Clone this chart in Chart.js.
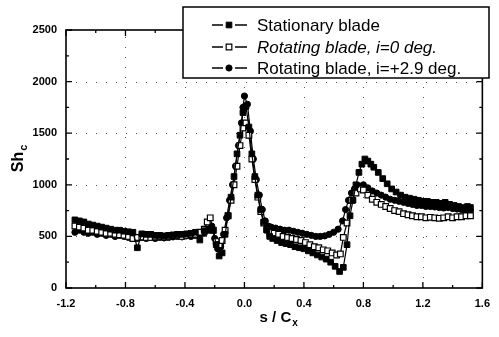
<!DOCTYPE html>
<html>
<head>
<meta charset="utf-8">
<script src="https://cdn.jsdelivr.net/npm/chart.js@4.4.0/dist/chart.umd.min.js"></script>
<style>
  body { margin: 0; background: #fff; }
  #wrap { width: 499px; height: 337px; }
</style>
</head>
<body>
<div id="wrap"><canvas id="myChart" width="499" height="337"></canvas></div>
<script>
  // tick labels
  var xTicks = [-1.2, -0.8, -0.4, 0.0, 0.4, 0.8, 1.2, 1.6];
  var yTicks = [0, 500, 1000, 1500, 2000, 2500];

  // Stationary blade (filled squares)
  var statS = [-1.14,-1.11,-1.08,-1.05,-1.02,-0.99,-0.96,-0.93,-0.90,-0.87,
    -0.84,-0.81,-0.78,-0.75,-0.72,-0.69,-0.66,-0.63,-0.60,-0.57,
    -0.54,-0.51,-0.48,-0.45,-0.42,-0.39,-0.36,-0.33,-0.30,-0.27,
    -0.24,-0.21,-0.19,-0.17,-0.15,-0.13,-0.11,-0.09,-0.07,-0.05,
    -0.03,-0.01,0.01,0.03,0.05,0.07,0.09,0.11,0.13,0.15,
    0.17,0.19,0.22,0.25,0.28,0.31,0.34,0.37,0.40,0.43,
    0.46,0.49,0.52,0.55,0.58,0.61,0.64,0.665,0.69,0.71,
    0.73,0.75,0.77,0.79,0.81,0.83,0.85,0.87,0.90,0.93,
    0.96,0.99,1.02,1.05,1.08,1.11,1.14,1.17,1.20,1.23,
    1.26,1.29,1.32,1.35,1.38,1.41,1.44,1.47,1.50,1.52];
  var statSh = [660,650,640,620,610,600,590,580,570,560,
    560,550,545,540,390,525,520,520,510,510,
    505,510,515,520,520,525,530,540,465,555,
    570,560,420,310,340,520,700,880,1080,1300,
    1480,1700,1760,1560,1300,1080,900,760,640,560,
    500,480,460,440,430,420,400,390,380,360,
    340,320,300,280,250,210,160,200,420,700,
    850,1000,1120,1200,1250,1230,1200,1170,1120,1060,
    1010,960,930,900,880,870,860,850,840,840,
    830,830,820,830,810,800,790,780,790,780];

  // Rotating blade, i=0 deg. (open squares)
  var rot0S = [-1.14,-1.11,-1.08,-1.05,-1.02,-0.99,-0.96,-0.93,-0.90,-0.87,
    -0.84,-0.81,-0.78,-0.75,-0.72,-0.69,-0.66,-0.63,-0.60,-0.57,
    -0.54,-0.51,-0.48,-0.45,-0.42,-0.39,-0.36,-0.33,-0.30,-0.27,
    -0.25,-0.23,-0.21,-0.19,-0.17,-0.15,-0.13,-0.11,-0.09,-0.07,
    -0.05,-0.03,-0.01,0.01,0.03,0.05,0.07,0.09,0.11,0.13,
    0.15,0.17,0.20,0.23,0.26,0.29,0.32,0.35,0.38,0.41,
    0.44,0.47,0.50,0.53,0.56,0.59,0.62,0.645,0.665,0.69,
    0.72,0.75,0.78,0.80,0.83,0.86,0.89,0.92,0.95,0.98,
    1.01,1.04,1.07,1.10,1.13,1.16,1.19,1.22,1.25,1.28,
    1.31,1.34,1.37,1.40,1.43,1.46,1.49,1.52];
  var rot0Sh = [600,590,580,560,560,550,540,530,530,520,
    515,510,500,480,490,495,490,490,495,500,
    495,500,505,510,500,510,515,520,540,570,
    640,680,560,450,420,460,560,700,850,1000,
    1180,1380,1550,1600,1480,1250,1050,880,740,630,
    570,540,530,520,500,490,480,470,460,440,
    420,400,390,370,360,340,320,330,490,630,
    850,920,960,950,900,860,830,810,790,770,
    750,740,720,710,700,690,690,680,685,680,
    675,680,690,680,690,690,700,700];

  // Rotating blade, i=+2.9 deg. (filled circles)
  var rot29S = [-1.14,-1.11,-1.08,-1.05,-1.02,-0.99,-0.96,-0.93,-0.90,-0.87,
    -0.84,-0.81,-0.78,-0.75,-0.72,-0.69,-0.66,-0.63,-0.60,-0.57,
    -0.54,-0.51,-0.48,-0.45,-0.42,-0.39,-0.36,-0.33,-0.30,-0.27,
    -0.24,-0.22,-0.20,-0.18,-0.16,-0.14,-0.12,-0.10,-0.08,-0.06,
    -0.04,-0.02,-0.01,0.00,0.02,0.04,0.06,0.08,0.10,0.12,
    0.14,0.16,0.18,0.21,0.24,0.27,0.30,0.33,0.36,0.39,
    0.42,0.45,0.48,0.51,0.54,0.57,0.60,0.63,0.66,0.68,
    0.70,0.72,0.74,0.77,0.80,0.83,0.86,0.89,0.92,0.95,
    0.98,1.01,1.04,1.07,1.10,1.13,1.16,1.19,1.22,1.25,
    1.28,1.31,1.34,1.37,1.40,1.43,1.46,1.49,1.52];
  var rot29Sh = [540,560,540,530,540,520,530,510,520,500,
    510,500,490,500,480,490,480,490,480,490,
    485,490,495,500,495,505,500,510,520,530,
    560,600,480,380,400,520,680,850,1000,1180,
    1380,1600,1750,1860,1780,1520,1250,1050,900,760,
    650,600,590,580,570,560,560,550,540,530,
    520,510,500,500,505,520,540,570,650,760,
    850,920,960,990,1000,970,940,920,900,880,
    860,850,840,830,820,810,800,800,790,790,
    785,780,775,780,770,765,760,755,750];

  function toPoints(xs, ys) {
    return xs.map(function (x, i) { return { x: x, y: ys[i] }; });
  }

  var FONT = '"Liberation Sans", Arial, sans-serif';

  // frame, inward ticks, dotted grid, axis titles with subscripts, legend box
  var decor = {
    id: 'decor',
    beforeDatasetsDraw: function (chart) {
      var ctx = chart.ctx, a = chart.chartArea;
      var xs = chart.scales.x, ys = chart.scales.y;
      ctx.save();
      ctx.strokeStyle = '#555';
      ctx.lineWidth = 1;
      ctx.setLineDash([1, 9]);
      xTicks.forEach(function (v) {
        if (v <= -1.2 || v >= 1.6) return;
        var px = Math.round(xs.getPixelForValue(v)) + 0.5;
        ctx.beginPath(); ctx.moveTo(px, a.bottom); ctx.lineTo(px, a.top); ctx.stroke();
      });
      yTicks.forEach(function (v) {
        if (v <= 0 || v >= 2500) return;
        var py = Math.round(ys.getPixelForValue(v)) + 0.5;
        ctx.beginPath(); ctx.moveTo(a.left, py); ctx.lineTo(a.right, py); ctx.stroke();
      });
      ctx.restore();
    },
    afterDatasetsDraw: function (chart) {
      var ctx = chart.ctx, a = chart.chartArea;
      var xs = chart.scales.x, ys = chart.scales.y;
      ctx.save();
      ctx.strokeStyle = '#000';
      ctx.lineWidth = 1.6;
      ctx.strokeRect(a.left, a.top, a.right - a.left, a.bottom - a.top);
      ctx.lineWidth = 1.3;
      // x ticks (every 0.2, major every 0.4)
      for (var k = -12; k <= 16; k += 2) {
        var v = k / 10;
        var len = (k % 4 === 0) ? 6 : 3;
        var px = xs.getPixelForValue(v);
        ctx.beginPath();
        ctx.moveTo(px, a.bottom); ctx.lineTo(px, a.bottom - len);
        ctx.moveTo(px, a.top); ctx.lineTo(px, a.top + len);
        ctx.stroke();
      }
      // y ticks (every 250, major every 500)
      for (var w = 0; w <= 2500; w += 250) {
        var l2 = (w % 500 === 0) ? 6 : 3;
        var py = ys.getPixelForValue(w);
        ctx.beginPath();
        ctx.moveTo(a.left, py); ctx.lineTo(a.left + l2, py);
        ctx.moveTo(a.right, py); ctx.lineTo(a.right - l2, py);
        ctx.stroke();
      }
      ctx.restore();
    },
    afterDraw: function (chart) {
      var ctx = chart.ctx, a = chart.chartArea;
      ctx.save();
      ctx.fillStyle = '#000';
      // x title: s / C with subscript x
      ctx.font = 'bold 15px ' + FONT;
      ctx.textBaseline = 'alphabetic';
      var main = 's / C';
      var mw = ctx.measureText(main).width;
      ctx.font = 'bold 10px ' + FONT;
      var sw = ctx.measureText('x').width;
      var cx = (a.left + a.right) / 2 + 4;
      var x0 = cx - (mw + sw) / 2;
      ctx.font = 'bold 15px ' + FONT;
      ctx.fillText(main, x0, 322);
      ctx.font = 'bold 10px ' + FONT;
      ctx.fillText('x', x0 + mw + 1, 326);

      // y title: Sh with subscript c (rotated)
      ctx.translate(23, (a.top + a.bottom) / 2);
      ctx.rotate(-Math.PI / 2);
      ctx.font = 'bold 16px ' + FONT;
      var yw = ctx.measureText('Sh').width;
      ctx.fillText('Sh', -yw / 2 - 3, 0);
      ctx.font = 'bold 11px ' + FONT;
      ctx.fillText('c', yw / 2 - 2, 4);
      ctx.restore();

      // legend box
      ctx.save();
      var lx = 183, ly = 7, lw = 306, lh = 71;
      ctx.fillStyle = '#fff';
      ctx.fillRect(lx, ly, lw, lh);
      ctx.strokeStyle = '#000';
      ctx.lineWidth = 1.5;
      ctx.strokeRect(lx, ly, lw, lh);
      var rows = [25, 47, 68];
      chart.data.datasets.forEach(function (ds, i) {
        var y = rows[i];
        ctx.strokeStyle = '#000';
        ctx.lineWidth = 1.3;
        ctx.beginPath();
        ctx.moveTo(212, y); ctx.lineTo(223, y);
        ctx.moveTo(235, y); ctx.lineTo(247, y);
        ctx.stroke();
        ctx.fillStyle = ds.pointBackgroundColor;
        ctx.strokeStyle = ds.pointBorderColor;
        ctx.lineWidth = ds.pointBorderWidth;
        Chart.helpers.drawPoint(ctx, {
          pointStyle: ds.pointStyle, radius: ds.pointRadius, borderWidth: ds.pointBorderWidth
        }, 229, y);
        ctx.fillStyle = '#000';
        ctx.font = (i === 1 ? 'italic ' : '') + '17px ' + FONT;
        ctx.textBaseline = 'middle';
        ctx.fillText(ds.label, 257, y + 1);
      });
      ctx.restore();
    }
  };

  var ctx = document.getElementById('myChart').getContext('2d');
  var myChart = new Chart(ctx, {
    type: 'scatter',
    data: {
      datasets: [{
        label: 'Stationary blade',
        data: toPoints(statS, statSh),
        showLine: true,
        borderColor: '#000',
        borderWidth: 1.2,
        pointStyle: 'rect',
        pointRadius: 4,
        pointBackgroundColor: '#000',
        pointBorderColor: '#000',
        pointBorderWidth: 1
      }, {
        label: 'Rotating blade, i=0 deg.',
        data: toPoints(rot0S, rot0Sh),
        showLine: true,
        borderColor: '#000',
        borderWidth: 1.2,
        pointStyle: 'rect',
        pointRadius: 4,
        pointBackgroundColor: '#fff',
        pointBorderColor: '#000',
        pointBorderWidth: 1.2
      }, {
        label: 'Rotating blade, i=+2.9 deg.',
        data: toPoints(rot29S, rot29Sh),
        showLine: true,
        borderColor: '#000',
        borderWidth: 1.2,
        pointStyle: 'circle',
        pointRadius: 3.1,
        pointBackgroundColor: '#000',
        pointBorderColor: '#000',
        pointBorderWidth: 1
      }]
    },
    options: {
      responsive: false,
      animation: false,
      layout: { padding: { left: 0, right: 9, top: 30, bottom: 0 } },
      plugins: { legend: { display: false }, tooltip: { enabled: false } },
      scales: {
        x: {
          type: 'linear',
          min: -1.2, max: 1.6,
          afterBuildTicks: function (s) { s.ticks = xTicks.map(function (v) { return { value: v }; }); },
          afterFit: function (s) { s.height = 49; },
          grid: { display: false, drawTicks: false },
          border: { display: false },
          ticks: {
            padding: 9,
            color: '#000',
            maxRotation: 0,
            font: { family: FONT, size: 11, weight: 'bold' },
            callback: function (v) { return v.toFixed(1); }
          }
        },
        y: {
          type: 'linear',
          min: 0, max: 2500,
          afterBuildTicks: function (s) { s.ticks = yTicks.map(function (v) { return { value: v }; }); },
          afterFit: function (s) { s.width = 66; },
          grid: { display: false, drawTicks: false },
          border: { display: false },
          ticks: {
            padding: 9,
            color: '#000',
            font: { family: FONT, size: 11, weight: 'bold' },
            callback: function (v) { return String(v); }
          }
        }
      }
    },
    plugins: [decor]
  });
</script>
</body>
</html>
